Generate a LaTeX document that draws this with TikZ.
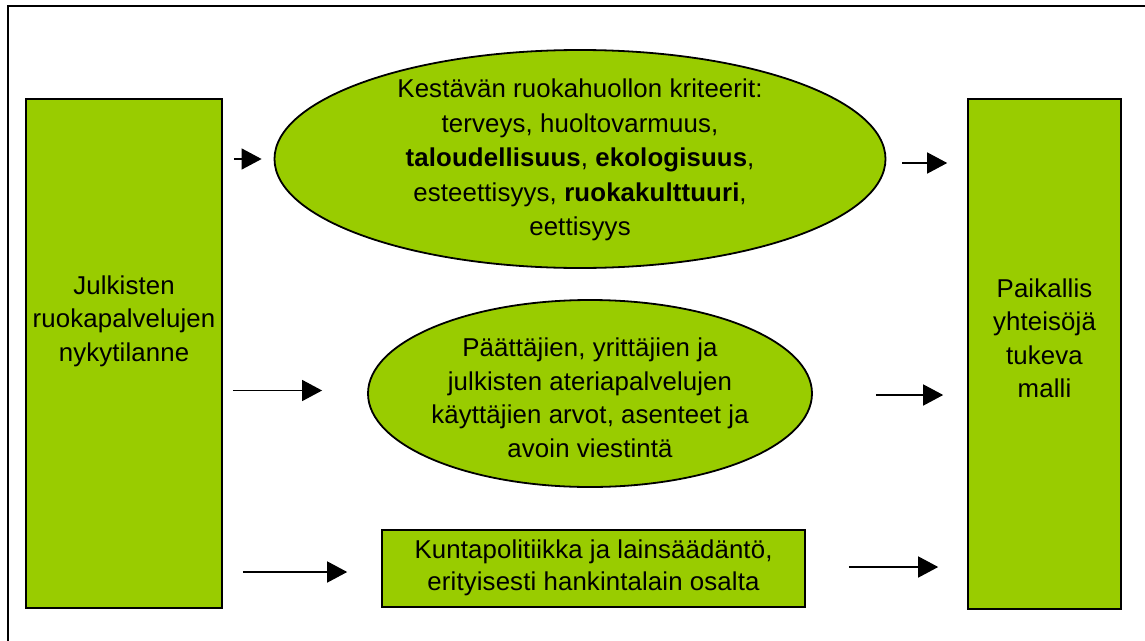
\documentclass[tikz,border=0pt]{standalone}
\usepackage{fontspec}
\setmainfont{Liberation Sans}[LetterSpace=0.5]
\usetikzlibrary{arrows.meta,shapes.geometric}
\definecolor{boxgreen}{HTML}{99CC00}

\begin{document}
\begin{tikzpicture}[x=1pt,y=-1pt,
  greenbox/.style={rectangle,draw=black,line width=1.6pt,fill=boxgreen,inner sep=0pt},
  greenoval/.style={ellipse,draw=black,line width=1.8pt,fill=boxgreen,inner sep=0pt},
  txt/.style={align=center,inner sep=0pt,font=\fontsize{25.8}{33.5}\selectfont},
  flow/.style={line width=1.4pt,-{Triangle[length=20pt,width=21pt]}}]
\useasboundingbox (0,0) rectangle (1145,640);
\draw[line width=1.5pt] (8,6) rectangle (1200,700);
\node[greenbox,minimum width=196pt,minimum height=509pt] (now) at (124,353.5) {};
\node[txt] (nowtext) at (124,321) {Julkisten\\ruokapalvelujen\\nykytilanne};
\node[greenbox,minimum width=153pt,minimum height=510pt] (model) at (1044.5,354) {};
\node[txt] (modeltext) at (1044.5,338.5) {Paikallis\\yhteisöjä\\tukeva\\malli};
\node[greenoval,minimum width=611pt,minimum height=218pt] (criteria) at (580,159) {};
\node[txt,font=\fontsize{25.8}{34.5}\selectfont] (criteriatext) at (580,160) {Kestävän ruokahuollon kriteerit:\\terveys, huoltovarmuus,\\\textbf{taloudellisuus}, \textbf{ekologisuus},\\esteettisyys, \textbf{ruokakulttuuri},\\eettisyys};
\node[greenoval,minimum width=444pt,minimum height=187pt] (values) at (590,393.5) {};
\node[txt] (valuestext) at (590,398) {Päättäjien, yrittäjien ja\\julkisten ateriapalvelujen\\käyttäjien arvot, asenteet ja\\avoin viestintä};
\node[greenbox,minimum width=423pt,minimum height=77pt] (law) at (593.5,568.5) {};
\node[txt,font=\fontsize{25.8}{32}\selectfont] (lawtext) at (593.5,568) {Kuntapolitiikka ja lainsäädäntö,\\erityisesti hankintalain osalta};
\draw[flow,shorten <=11pt,shorten >=12pt] (now.east |- criteria.west) -- (criteria.west);
\draw[flow,shorten <=10pt,shorten >=45pt] ([yshift=3pt]now.east |- values.west) -- ([yshift=3pt]values.west);
\draw[flow,shorten <=20pt,shorten >=34pt] ([yshift=-3.5pt]now.east |- law.west) -- ([yshift=-3.5pt]law.west);
\draw[flow,shorten <=16pt,shorten >=20pt] ([yshift=-4pt]criteria.east) -- ([yshift=-4pt]criteria.east -| model.west);
\draw[flow,shorten <=63pt,shorten >=24pt] ([yshift=-1.5pt]values.east) -- ([yshift=-1.5pt]values.east -| model.west);
\draw[flow,shorten <=43pt,shorten >=29pt] ([yshift=1.5pt]law.east) -- ([yshift=1.5pt]law.east -| model.west);
\end{tikzpicture}
\end{document}
